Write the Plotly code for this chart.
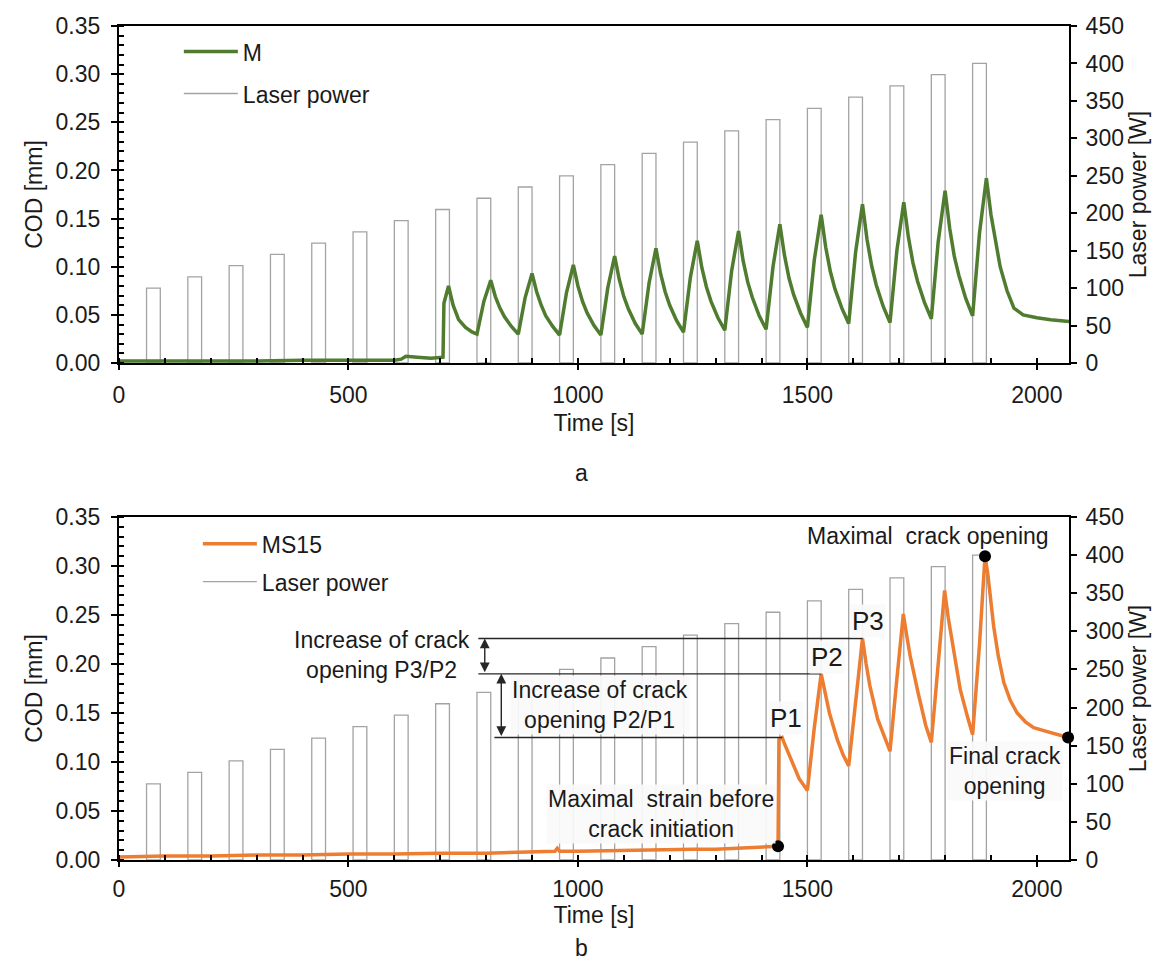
import plotly.graph_objects as go
import numpy as np

# ---------------- data ----------------
# laser pulses: start time [s] (30 s long) and power [W]
bar_start = [60, 150, 240, 330, 420, 510, 600, 690, 780, 870, 960,
             1050, 1140, 1230, 1320, 1410, 1500, 1590, 1680, 1770, 1860]
bar_duration = 30
laser_power = [100, 115, 130, 145, 160, 175, 190, 205, 220, 235, 250,
               265, 280, 295, 310, 325, 340, 355, 370, 385, 400]

# COD of specimen M
time_m = [0, 100, 200, 300, 400, 500, 600, 615, 625, 650, 680, 706,
          708, 718, 728, 740, 755, 770,
          780, 795, 810, 820, 830, 840, 855,
          870, 885, 900, 910, 920, 930, 945,
          960, 975, 990, 1000, 1010, 1020, 1035,
          1050, 1065, 1080, 1090, 1100, 1110, 1125,
          1140, 1155, 1170, 1180, 1190, 1200, 1215,
          1230, 1245, 1260, 1270, 1280, 1290, 1305,
          1320, 1335, 1350, 1360, 1370, 1380, 1395,
          1410, 1425, 1440, 1450, 1460, 1470, 1485,
          1500, 1515, 1530, 1540, 1550, 1560, 1575,
          1590, 1605, 1620, 1630, 1640, 1650, 1665,
          1680, 1695, 1710, 1720, 1730, 1740, 1755,
          1770, 1785, 1800, 1810, 1820, 1830, 1845,
          1860, 1875, 1890, 1900, 1910, 1920, 1935, 1950, 1970, 2000, 2030, 2070]
cod_m = [0.002, 0.002, 0.002, 0.002, 0.003, 0.003, 0.003, 0.004, 0.007, 0.006, 0.005, 0.006,
         0.062, 0.080, 0.060, 0.045, 0.037, 0.032,
         0.030, 0.064, 0.086, 0.069, 0.057, 0.048, 0.038,
         0.030, 0.068, 0.093, 0.074, 0.060, 0.049, 0.038,
         0.029, 0.073, 0.102, 0.080, 0.064, 0.052, 0.039,
         0.029, 0.078, 0.111, 0.087, 0.069, 0.056, 0.041,
         0.030, 0.083, 0.119, 0.093, 0.074, 0.060, 0.044,
         0.032, 0.089, 0.127, 0.099, 0.079, 0.064, 0.047,
         0.034, 0.096, 0.137, 0.106, 0.084, 0.068, 0.049,
         0.035, 0.100, 0.144, 0.112, 0.088, 0.071, 0.052,
         0.037, 0.107, 0.154, 0.120, 0.095, 0.077, 0.057,
         0.041, 0.115, 0.165, 0.128, 0.101, 0.081, 0.059,
         0.042, 0.117, 0.167, 0.131, 0.104, 0.085, 0.063,
         0.046, 0.126, 0.179, 0.140, 0.111, 0.091, 0.067,
         0.049, 0.135, 0.192, 0.154, 0.125, 0.100, 0.075, 0.057, 0.050, 0.047, 0.045, 0.043]

# COD of specimen MS15
time_ms15 = [0, 100, 200, 300, 400, 500, 600, 700, 800, 900, 950, 955, 960,
             1000, 1100, 1200, 1250, 1300, 1350, 1400, 1420, 1436,
             1438, 1445, 1448, 1465, 1482,
             1500, 1515, 1530, 1540, 1548, 1565, 1578,
             1590, 1605, 1620, 1628, 1636, 1653, 1670,
             1680, 1695, 1709, 1716, 1724, 1741, 1758,
             1770, 1785, 1799, 1807, 1816, 1833, 1850,
             1860, 1875, 1887, 1893, 1900, 1906, 1916, 1928, 1942, 1957,
             1975, 1993, 2015, 2036, 2068]
cod_ms15 = [0.003, 0.004, 0.004, 0.005, 0.005, 0.006, 0.006, 0.007, 0.007, 0.008, 0.009, 0.012, 0.009,
            0.009, 0.010, 0.011, 0.011, 0.011, 0.012, 0.013, 0.014, 0.014,
            0.123, 0.125, 0.121, 0.101, 0.083,
            0.071, 0.135, 0.190, 0.168, 0.150, 0.123, 0.107,
            0.096, 0.165, 0.226, 0.200, 0.178, 0.144, 0.122,
            0.111, 0.185, 0.251, 0.230, 0.208, 0.171, 0.137,
            0.120, 0.200, 0.275, 0.247, 0.221, 0.174, 0.144,
            0.128, 0.220, 0.310, 0.292, 0.265, 0.238, 0.208, 0.181, 0.163, 0.150,
            0.141, 0.135, 0.132, 0.129, 0.125]

x_range = [0, 2070]
cod_range = [0, 0.35]
power_range = [0, 450]

# ---------------- derived ----------------
bar_center = [s + bar_duration / 2 for s in bar_start]
tm = np.array(time_ms15, dtype=float)
cm = np.array(cod_ms15, dtype=float)


def peak(t0, t1):
    sel = np.where((tm >= t0) & (tm <= t1))[0]
    i = sel[np.argmax(cm[sel])]
    return tm[i], cm[i]


crack_i = int(np.where(tm == 1436)[0][0])
p1_t, p1 = peak(1437, 1499)
p2_t, p2 = peak(1500, 1589)
p3_t, p3 = peak(1590, 1679)
max_i = int(np.argmax(cm))
final_i = len(cm) - 1

FONT = "Liberation Sans, Arial, sans-serif"
GREEN = "#4F7C2F"
ORANGE = "#ED7D31"
BARLINE = "#A3A3A3"
TXT = "#1a1a1a"

fig = go.Figure()

# ---- top panel ----
fig.add_trace(go.Bar(x=bar_center, y=laser_power, width=bar_duration,
                     marker=dict(color="white", line=dict(color=BARLINE, width=1.3)),
                     xaxis="x", yaxis="y", showlegend=False, hoverinfo="skip"))
fig.add_trace(go.Scatter(x=time_m, y=cod_m, mode="lines", name="M",
                         line=dict(color=GREEN, width=3.5), xaxis="x", yaxis="y2",
                         legend="legend", legendgroup="a1"))
fig.add_trace(go.Scatter(x=[None], y=[None], mode="lines", name="Laser power",
                         line=dict(color=BARLINE, width=1.3), xaxis="x", yaxis="y2",
                         legend="legend", legendgroup="a2"))

# ---- bottom panel ----
fig.add_trace(go.Bar(x=bar_center, y=laser_power, width=bar_duration,
                     marker=dict(color="white", line=dict(color=BARLINE, width=1.3)),
                     xaxis="x2", yaxis="y3", showlegend=False, hoverinfo="skip"))
fig.add_trace(go.Scatter(x=time_ms15, y=cod_ms15, mode="lines", name="MS15",
                         line=dict(color=ORANGE, width=3.5), xaxis="x2", yaxis="y4",
                         legend="legend2", legendgroup="b1"))
fig.add_trace(go.Scatter(x=[None], y=[None], mode="lines", name="Laser power",
                         line=dict(color=BARLINE, width=1.3), xaxis="x2", yaxis="y4",
                         legend="legend2", legendgroup="b2"))
fig.add_trace(go.Scatter(x=[tm[crack_i], tm[max_i], tm[final_i]],
                         y=[cm[crack_i], cm[max_i], cm[final_i]],
                         mode="markers", marker=dict(color="black", size=12),
                         xaxis="x2", yaxis="y4", showlegend=False, cliponaxis=False))

tickfont = dict(family=FONT, size=23, color=TXT)
titlefont = dict(family=FONT, size=23, color=TXT)


def xax(anchor, standoff, lblgap):
    return dict(domain=[0, 1], anchor=anchor, range=x_range, dtick=500, automargin=False,
                ticks="outside", ticklen=5, tickwidth=1.5, tickcolor="black",
                ticklabelstandoff=lblgap,
                minor=dict(ticks="inside", dtick=100, ticklen=5, tickwidth=1.5, tickcolor="black"),
                showline=True, linecolor="black", linewidth=2, mirror=True,
                showgrid=False, zeroline=False, tickfont=tickfont,
                title=dict(text="Time [s]", font=titlefont, standoff=standoff))


def pax(domain, anchor):
    return dict(domain=domain, anchor=anchor, side="right", range=power_range, dtick=50,
                automargin=False, ticklabelstandoff=4,
                ticks="outside", ticklen=6, tickwidth=1.5, tickcolor="black",
                showline=True, linecolor="black", linewidth=2, showgrid=False,
                zeroline=False, tickfont=tickfont,
                title=dict(text="Laser power [W]", font=titlefont, standoff=7))


def cax(overlay, anchor):
    return dict(overlaying=overlay, anchor=anchor, side="left", range=cod_range, dtick=0.05,
                automargin=False, ticklabelstandoff=6,
                tickformat=".2f", ticks="outside", ticklen=6, tickwidth=1.5, tickcolor="black",
                minor=dict(ticks="inside", dtick=0.01, ticklen=5, tickwidth=1.5, tickcolor="black"),
                showline=True, linecolor="black", linewidth=2.2, showgrid=False,
                zeroline=False, tickfont=tickfont,
                title=dict(text="COD [mm]", font=titlefont, standoff=6))


top_dom = [0.5959, 1.0]
bot_dom = [0.0, 0.4113]

lnc = "#262626"
shapes = [
    dict(type="line", xref="x2", yref="y4", x0=783, x1=p3_t, y0=p3, y1=p3,
         line=dict(color=lnc, width=1.3)),
    dict(type="line", xref="x2", yref="y4", x0=783, x1=p2_t, y0=p2, y1=p2,
         line=dict(color=lnc, width=1.3)),
    dict(type="line", xref="x2", yref="y4", x0=818, x1=p1_t, y0=p1, y1=p1,
         line=dict(color=lnc, width=1.3)),
]

afont = dict(family=FONT, size=23, color=TXT)
bg = "rgba(250,250,250,0.92)"
annotations = [
    # double arrows
    dict(xref="x2", yref="y4", axref="x2", ayref="y4", x=797, y=p3, ax=797, ay=p2,
         text="", showarrow=True, arrowhead=2, arrowside="end+start", arrowsize=1.4,
         arrowwidth=1.4, arrowcolor=lnc, standoff=0, startstandoff=0),
    dict(xref="x2", yref="y4", axref="x2", ayref="y4", x=833, y=p2, ax=833, ay=p1,
         text="", showarrow=True, arrowhead=2, arrowside="end+start", arrowsize=1.4,
         arrowwidth=1.4, arrowcolor=lnc, standoff=0, startstandoff=0),
    dict(xref="x2", yref="y4", x=572, y=0.2095, text="Increase of crack<br>opening P3/P2",
         showarrow=False, font=afont, align="center"),
    dict(xref="x2", yref="y4", x=1047, y=0.158, text="Increase of crack<br>opening P2/P1",
         showarrow=False, font=afont, align="center", bgcolor=bg),
    dict(xref="x2", yref="y4", x=1180, y=0.047, text="Maximal  strain before<br>crack initiation",
         showarrow=False, font=afont, align="center", bgcolor=bg),
    dict(xref="x2", yref="y4", x=1762, y=0.331, text="Maximal  crack opening",
         showarrow=False, font=afont, align="center"),
    dict(xref="x2", yref="y4", x=1931, y=0.0908, text="Final crack<br>opening",
         showarrow=False, font=afont, align="center", bgcolor=bg),
    dict(xref="x2", yref="y4", x=1453, y=0.145, text="P1", showarrow=False,
         font=dict(family=FONT, size=26, color=TXT), bgcolor=bg),
    dict(xref="x2", yref="y4", x=1542, y=0.207, text="P2", showarrow=False,
         font=dict(family=FONT, size=26, color=TXT), bgcolor=bg),
    dict(xref="x2", yref="y4", x=1633, y=0.2435, text="P3", showarrow=False,
         font=dict(family=FONT, size=26, color=TXT), bgcolor=bg),
    dict(xref="paper", yref="paper", x=0.487, y=0.464, text="a", showarrow=False,
         font=dict(family=FONT, size=23, color=TXT)),
    dict(xref="paper", yref="paper", x=0.487, y=-0.1235, text="b", showarrow=False,
         font=dict(family=FONT, size=23, color=TXT)),
]

legfont = dict(family=FONT, size=23, color=TXT)
fig.update_layout(
    width=1165, height=966, autosize=False,
    margin=dict(l=111, r=104, t=18, b=114),
    paper_bgcolor="white", plot_bgcolor="white",
    font=dict(family=FONT, color=TXT),
    xaxis=xax("y", 8, 5), xaxis2=xax("y3", 0, 2),
    yaxis=pax(top_dom, "x"), yaxis2=cax("y", "x"),
    yaxis3=pax(bot_dom, "x2"), yaxis4=cax("y3", "x2"),
    barmode="overlay",
    shapes=shapes, annotations=annotations,
    legend=dict(x=0.063, y=0.995, xanchor="left", yanchor="top", font=legfont,
                bgcolor="rgba(0,0,0,0)", itemwidth=54, tracegroupgap=9),
    legend2=dict(x=0.083, y=0.405, xanchor="left", yanchor="top", font=legfont,
                 bgcolor="rgba(0,0,0,0)", itemwidth=54, tracegroupgap=5),
)

fig.write_html("out.html")
